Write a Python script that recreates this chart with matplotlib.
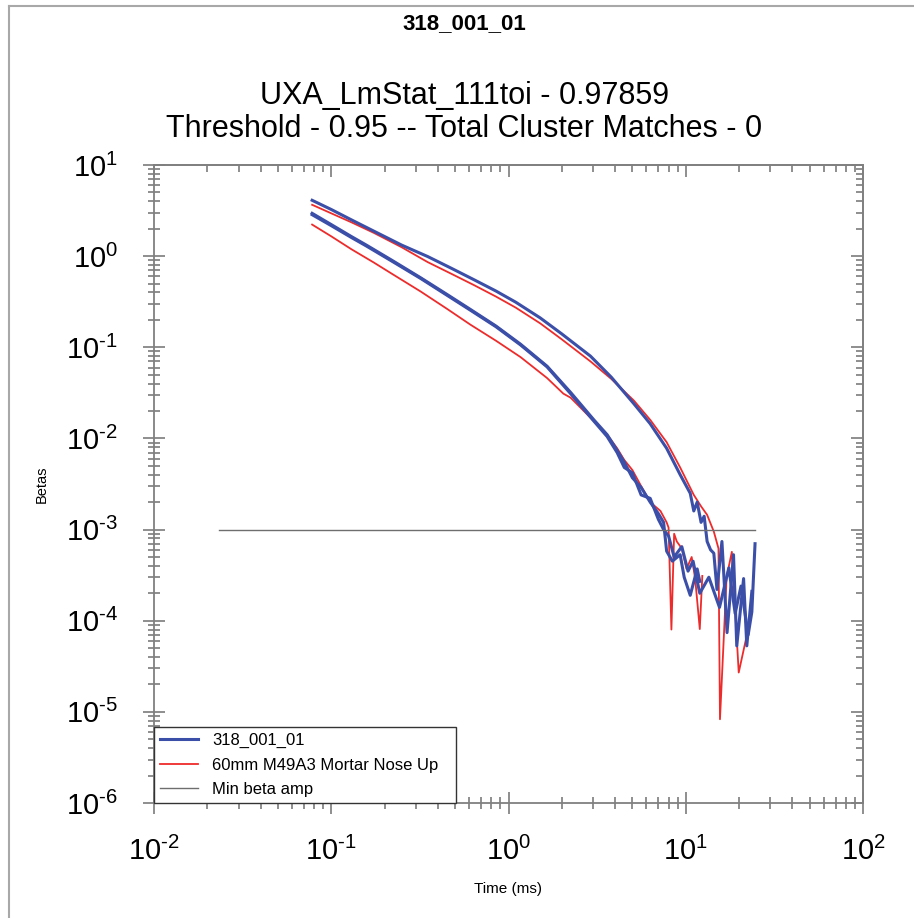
import math

import matplotlib
matplotlib.use("Agg")
import matplotlib.pyplot as plt
from matplotlib.lines import Line2D
from matplotlib.ticker import FuncFormatter, LogLocator, NullFormatter

plt.rcParams["font.family"] = ["Liberation Sans", "DejaVu Sans"]
plt.rcParams["mathtext.fontset"] = "custom"
plt.rcParams["mathtext.rm"] = "Liberation Sans"
plt.rcParams["mathtext.it"] = "Liberation Sans:italic"
plt.rcParams["mathtext.bf"] = "Liberation Sans:bold"
plt.rcParams["mathtext.default"] = "regular"
plt.rcParams["axes.unicode_minus"] = False

# --- data (time in ms, betas) ---
t_b1 = [0.078, 0.1, 0.13, 0.174, 0.25, 0.35, 0.48, 0.64, 0.85, 1.1, 1.51, 2.0,
        2.9, 3.8, 5.1, 6.3, 7.8, 9.3, 10.6, 11.1, 11.6, 12.2, 12.7, 13.2, 13.8,
        14.4, 15.0, 16.0, 17.1, 18.6, 19.4, 21.2, 22.1, 23.6]
b1 = [4.1, 3.25, 2.5, 1.88, 1.32, 0.99, 0.73, 0.55, 0.414, 0.312, 0.21, 0.14,
      0.08, 0.047, 0.024, 0.0145, 0.0078, 0.004, 2.5e-3, 1.6e-3, 2.0e-3, 1.2e-3,
      1.4e-3, 7.4e-4, 6.0e-4, 5.5e-4, 2.2e-4, 7.4e-4, 7.4e-5, 5.3e-4, 5.3e-5,
      2.9e-4, 5.3e-5, 2.1e-4]

t_b2 = [0.078, 0.1, 0.13, 0.158, 0.22, 0.319, 0.45, 0.61, 0.85, 1.17, 1.65, 2.24,
        3.03, 3.6, 4.1, 4.5, 5.0, 5.6, 6.3, 7.0, 7.5, 7.8, 8.4, 9.3, 9.8, 10.6,
        11.6, 12.0]
b2 = [2.95, 2.22, 1.64, 1.32, 0.9, 0.58, 0.38, 0.26, 0.171, 0.108, 0.062, 0.032,
      0.016, 0.011, 7.4e-3, 5.5e-3, 3.7e-3, 2.9e-3, 2.0e-3, 1.5e-3, 1.2e-3,
      5.8e-4, 4.5e-4, 5.3e-4, 3.0e-4, 1.9e-4, 3.7e-4, 2.7e-4]

t_b3 = [0.078, 0.1, 0.13, 0.158, 0.22, 0.319, 0.45, 0.61, 0.85, 1.17, 1.65, 2.24,
        3.03, 3.6, 4.1, 4.5, 5.0, 5.6, 6.3, 7.0, 7.5, 8.0, 8.6, 9.5, 10.3, 11.0,
        12.0, 13.5, 15.5, 17.5, 19.0, 20.5, 22.5, 23.6, 24.6]
b3 = [2.85, 2.16, 1.6, 1.29, 0.88, 0.57, 0.372, 0.255, 0.168, 0.106, 0.061,
      0.031, 0.0155, 0.0105, 7.0e-3, 4.8e-3, 4.2e-3, 2.4e-3, 2.2e-3, 1.3e-3,
      1.0e-3, 8.5e-4, 5.0e-4, 6.5e-4, 3.5e-4, 4.5e-4, 2.0e-4, 3.0e-4, 1.4e-4,
      3.8e-4, 1.2e-4, 2.4e-4, 7.0e-5, 1.25e-4, 7.0e-4]

t_r1 = [0.078, 0.1, 0.13, 0.174, 0.25, 0.35, 0.48, 0.64, 0.85, 1.1, 1.51, 2.0,
        2.9, 3.8, 5.1, 6.3, 7.8, 9.3, 11.1, 12.2, 13.2, 14.4, 15.3, 15.6, 17.0,
        18.2, 19.9, 22.1, 23.1]
r1 = [3.66, 2.95, 2.35, 1.8, 1.25, 0.86, 0.635, 0.48, 0.36, 0.272, 0.183, 0.122,
      0.07, 0.045, 0.026, 0.016, 9.1e-3, 4.8e-3, 2.4e-3, 1.8e-3, 1.45e-3,
      9.5e-4, 6.2e-4, 8.3e-6, 3.0e-4, 5.7e-4, 2.7e-5, 6.9e-5, 1.15e-4]

t_r2 = [0.078, 0.1, 0.13, 0.174, 0.22, 0.319, 0.45, 0.61, 0.85, 1.17, 1.65, 2.04,
        2.24, 3.03, 3.6, 4.1, 4.5, 5.0, 5.6, 6.3, 7.2, 7.8, 8.0, 8.3, 8.6, 8.9,
        9.5, 10.1, 10.8, 11.3, 12.0, 12.4]
r2 = [2.22, 1.65, 1.19, 0.85, 0.64, 0.41, 0.264, 0.177, 0.118, 0.078, 0.046,
      0.031, 0.028, 0.0155, 0.011, 7.8e-3, 5.8e-3, 4.5e-3, 3.0e-3, 2.0e-3,
      1.6e-3, 1.2e-3, 1.05e-3, 8.0e-5, 9.0e-4, 7.4e-4, 6.2e-4, 3.7e-4, 5.0e-4,
      2.9e-4, 8.1e-5, 3.1e-4]

min_beta_t = [0.0232, 24.6]
min_beta = [1e-3, 1e-3]

labels = ["318_001_01", "60mm M49A3 Mortar Nose Up", "Min beta amp"]

blue = "#3c4fa8"
red = "#ee2b2b"
gray = "#6e6e6e"
tick_gray = "#707070"


def pow10(v, pos):
    # hyphen instead of a math minus, as in the original
    return r"$10^{\text{%d}}$" % round(math.log10(v))


fig = plt.figure(figsize=(9.14, 9.18), dpi=100)
ax = fig.add_axes([154 / 914, 1 - 803 / 918, 709 / 914, 638 / 918])

ax.plot(t_r1, r1, color=red, lw=1.3)
ax.plot(t_r2, r2, color=red, lw=1.3)
for t, b in [(t_b1, b1), (t_b2, b2), (t_b3, b3)]:
    ax.plot(t, b, color=blue, lw=2.2)
ax.plot(min_beta_t, min_beta, color=gray, lw=1.0)

ax.set_xscale("log")
ax.set_yscale("log")
ax.set_xlim(1e-2, 1e2)
ax.set_ylim(1e-6, 1e1)
ax.xaxis.set_major_formatter(FuncFormatter(pow10))
ax.yaxis.set_major_formatter(FuncFormatter(pow10))

for s in ax.spines.values():
    s.set_color("#808080")
    s.set_linewidth(1.3)

ax.tick_params(which="both", color=tick_gray, width=1.1, labelsize=21,
               direction="inout", top=False, right=False)
ax.tick_params(which="major", length=16)
ax.tick_params(which="minor", length=8)
ax.tick_params(axis="y", pad=18)
ax.tick_params(axis="x", pad=16.5)

# top / right ticks point inward only
secx = ax.secondary_xaxis("top")
secy = ax.secondary_yaxis("right")
for sec, axis in [(secx, secx.xaxis), (secy, secy.yaxis)]:
    axis.set_major_locator(LogLocator(base=10, numticks=20))
    axis.set_minor_locator(LogLocator(base=10, subs=range(2, 10), numticks=20))
    axis.set_major_formatter(NullFormatter())
    axis.set_minor_formatter(NullFormatter())
    sec.tick_params(which="both", direction="in", color=tick_gray, width=1.1)
    sec.tick_params(which="major", length=8.5)
    sec.tick_params(which="minor", length=5)
    for s in sec.spines.values():
        s.set_color("#808080")
        s.set_linewidth(1.3)

ax.set_xlabel("Time (ms)", fontsize=11)
ax.set_ylabel("Betas", fontsize=10.5)
ax.xaxis.set_label_coords(0.5, -0.124)
ax.yaxis.set_label_coords(-0.148, 0.5)

handles = [Line2D([], [], color=blue, lw=2.2),
           Line2D([], [], color=red, lw=1.3),
           Line2D([], [], color=gray, lw=1.0)]
leg = ax.legend(handles, labels, loc="lower left", mode="expand",
                bbox_to_anchor=(0, 0, 302 / 709, 0.2), borderaxespad=0,
                fontsize=12, handlelength=2.3, handletextpad=0.85,
                labelspacing=0.57, borderpad=0.35, fancybox=False,
                framealpha=1, edgecolor="#333333")
leg.get_frame().set_linewidth(1.0)

fig.text(0.508, 1 - 29 / 918, "318_001_01", ha="center", va="baseline",
         fontsize=16, fontweight="bold")
fig.text(0.508, 1 - 104 / 918, "UXA_LmStat_111toi - 0.97859", ha="center",
         va="baseline", fontsize=22)
fig.text(0.508, 1 - 137 / 918, "Threshold - 0.95 -- Total Cluster Matches - 0",
         ha="center", va="baseline", fontsize=22)

# frame lines of the original screenshot
fig.add_artist(Line2D([9 / 914, 9 / 914], [0, 1 - 6 / 918],
                      transform=fig.transFigure, color="#a8a8a8", lw=1.5))
fig.add_artist(Line2D([9 / 914, 1], [1 - 6 / 918, 1 - 6 / 918],
                      transform=fig.transFigure, color="#a8a8a8", lw=1.5))

fig.savefig("out.png", dpi=100)
